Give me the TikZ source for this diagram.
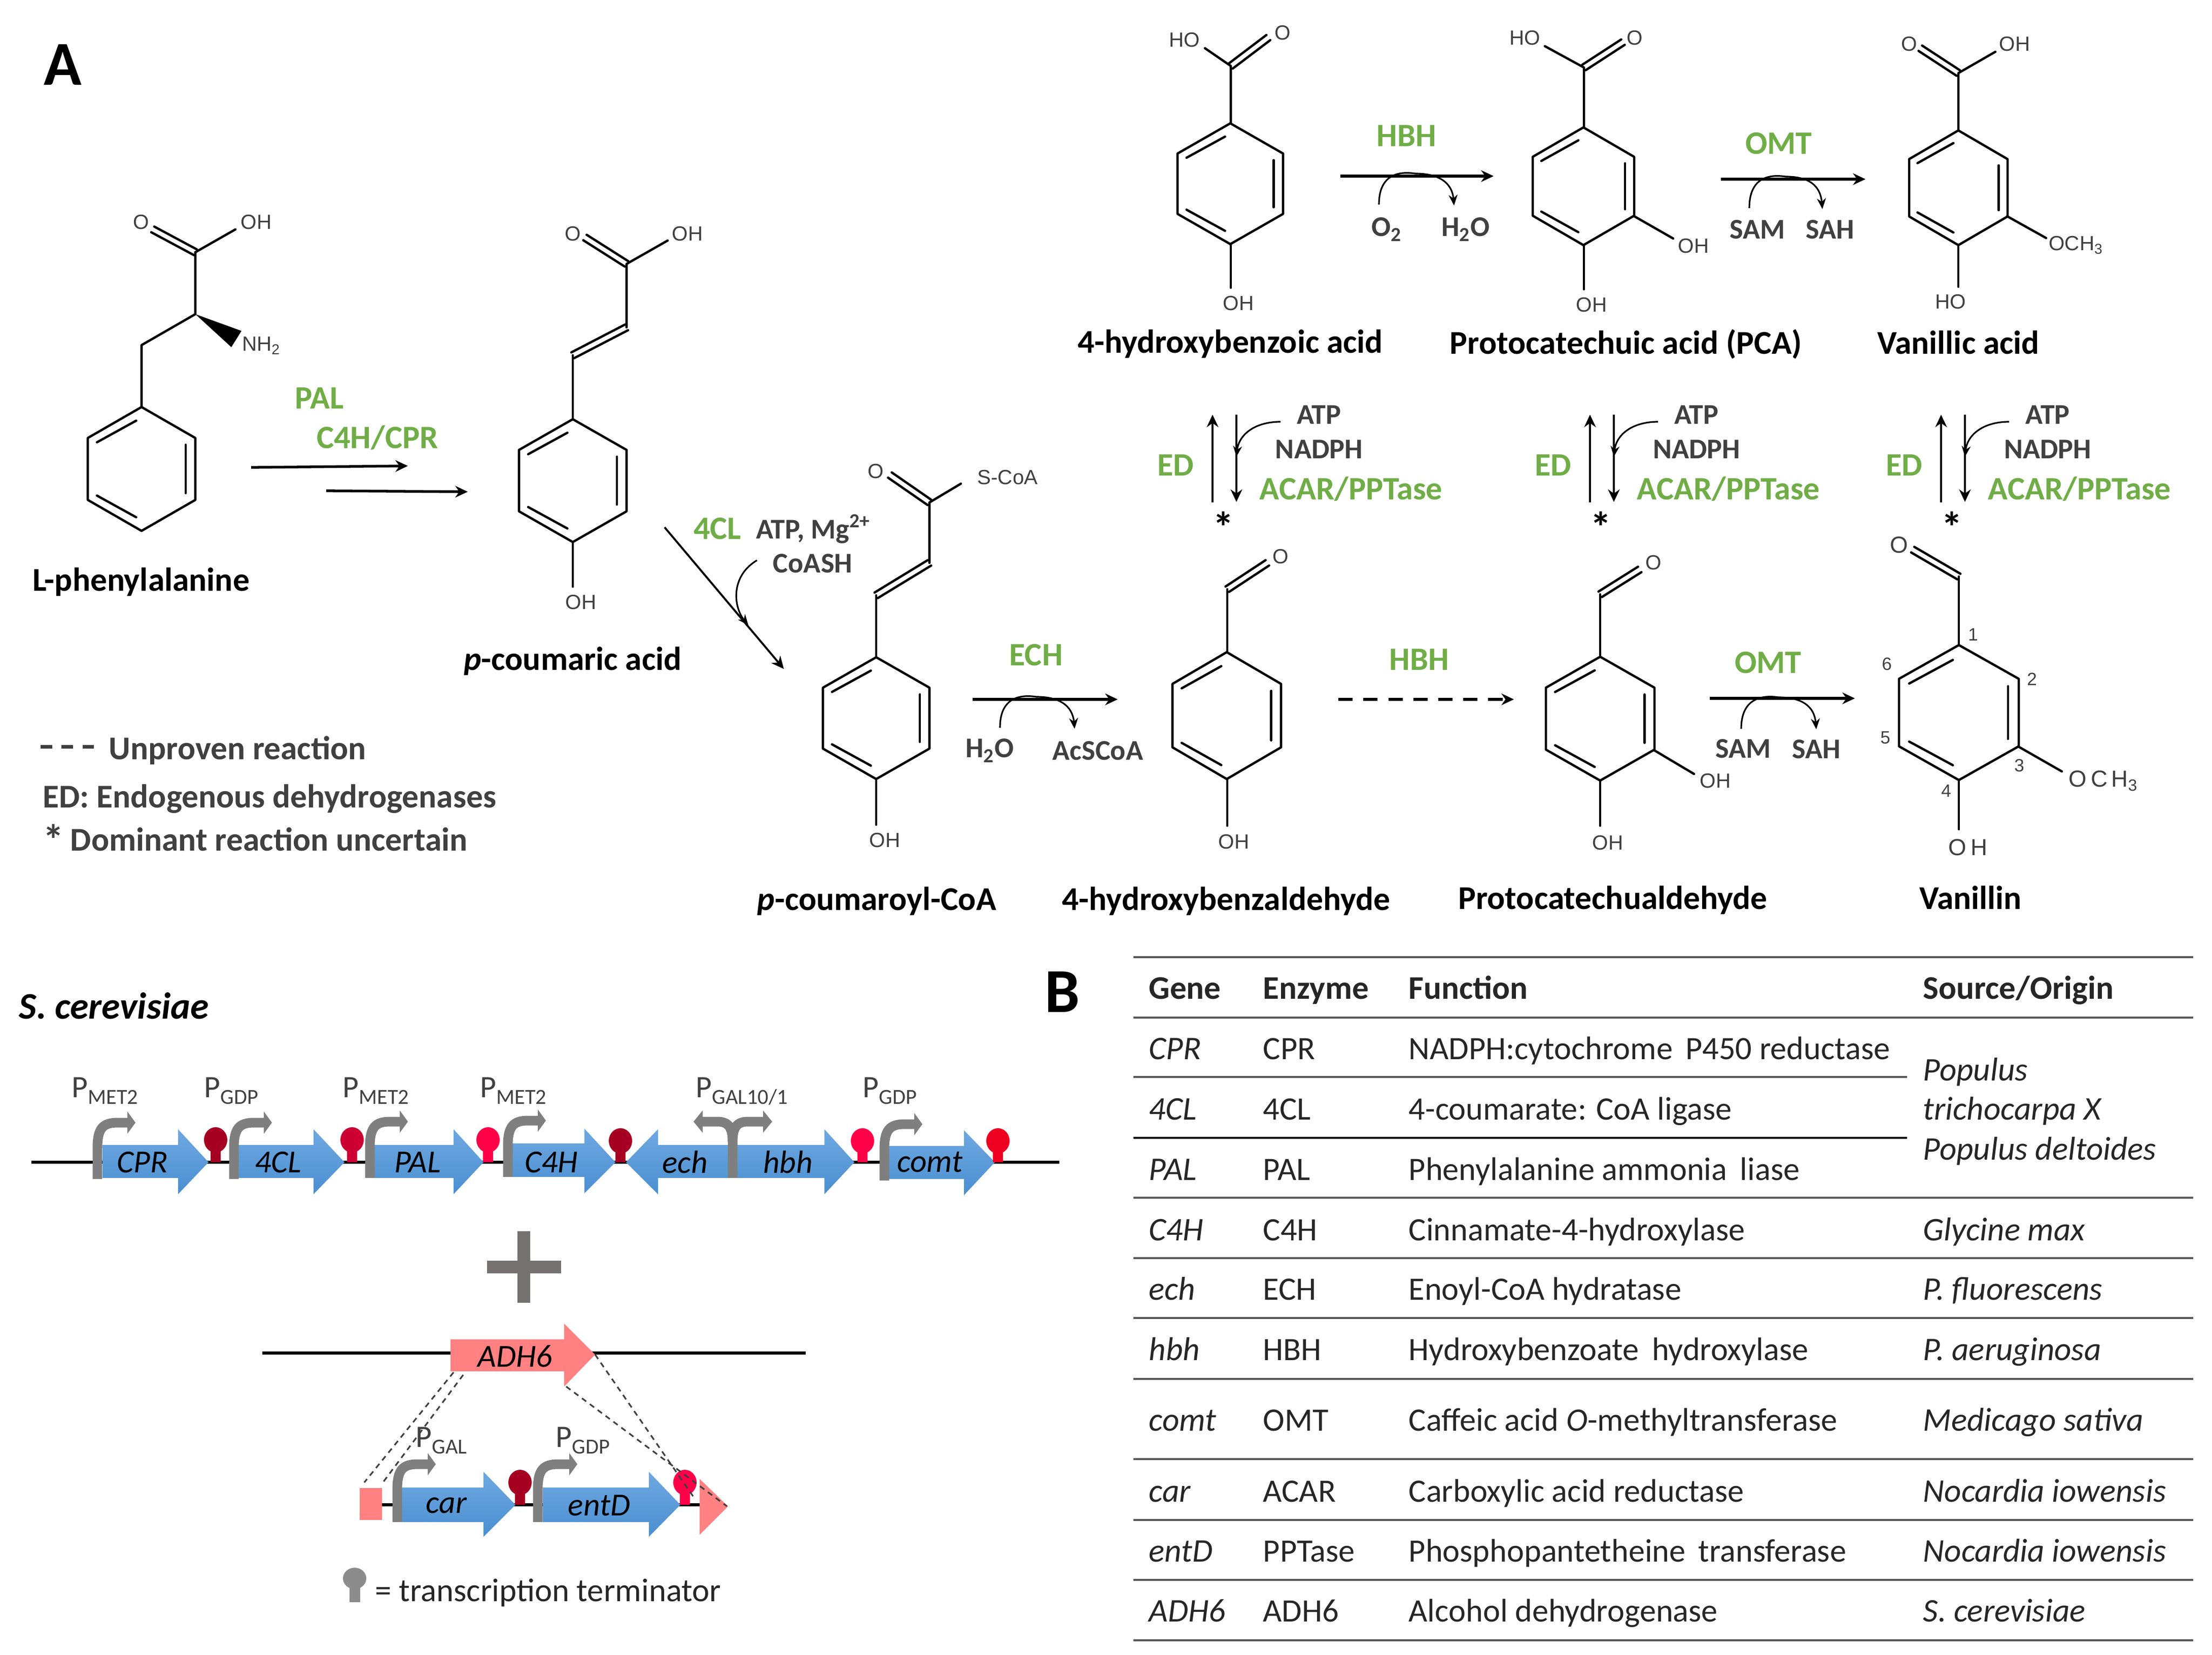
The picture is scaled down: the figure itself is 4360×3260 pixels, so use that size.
\documentclass[tikz,border=0pt]{standalone}
\usepackage{fontspec}
\setmainfont{Carlito}
\newfontfamily\chemfont{Liberation Sans}
\usepackage{tikz}
\usetikzlibrary{calc, arrows.meta}
\usepackage{xcolor}
\definecolor{enzyme_green}{HTML}{70AD47}
\definecolor{soft_text}{HTML}{404040}
\definecolor{gene_top}{HTML}{6FA8E0}
\definecolor{gene_bottom}{HTML}{4A8FD2}
\definecolor{adh_pink}{HTML}{FF8181}
\definecolor{promoter_gray}{HTML}{7F7F7F}
\definecolor{plus_gray}{HTML}{767171}
\definecolor{term_dark}{HTML}{A50021}
\definecolor{term_mid}{HTML}{CC0033}
\definecolor{term_pink}{HTML}{FF0048}
\definecolor{term_red}{HTML}{EE0022}
\definecolor{rule_gray}{HTML}{595959}
\newcommand\fs[1]{\fontsize{#1}{#1}\selectfont}
% hexagon with its three inner lines: centre x, centre y, radius x, radius y
\newcommand\benzene[4]{%
  \draw[bond] (#1,{#2-#4}) -- ({#1+#3},{#2-0.5*#4}) -- ({#1+#3},{#2+0.5*#4}) -- (#1,{#2+#4})
    -- ({#1-#3},{#2+0.5*#4}) -- ({#1-#3},{#2-0.5*#4}) -- cycle;
  \draw[bond] ({#1+0.82*#3},{#2-0.39*#4}) -- ({#1+0.82*#3},{#2+0.39*#4});
  \draw[bond] ({#1-0.83*#3},{#2-0.43*#4}) -- ({#1-0.1*#3},{#2-0.78*#4});
  \draw[bond] ({#1-0.83*#3},{#2+0.43*#4}) -- ({#1-0.1*#3},{#2+0.78*#4});
}
\newcommand\dbond[2]{%
  \draw[bond] ($#1!1.8pt!90:#2$) -- ($#2!1.8pt!-90:#1$);
  \draw[bond] ($#1!1.8pt!-90:#2$) -- ($#2!1.8pt!90:#1$);
}
\newcommand\promoter[4]{% x, bottom y, arrow y, arrow length
  \draw[promoter-line] (#1,#2) -- (#1,{#3+50}) .. controls (#1,{#3+12}) and ({#1+10},#3) .. ({#1+40},#3) -- ({#1+#4-14},#3);
  \fill[promoter_gray] ({#1+#4-16},{#3-22}) -- ({#1+#4},#3) -- ({#1+#4-16},{#3+22}) -- cycle;
}
\newcommand\terminator[4]{% colour, x, foot y, head y
  \fill[#1] ({#2-10},#3) rectangle ({#2+10},{#4+10});
  \fill[#1] (#2,#4) ellipse [x radius=23, y radius=25];
}
\newcommand\promlabel[1]{P\raisebox{-3.7pt}{\fs{12}#1}}

\begin{document}
\begin{tikzpicture}[
    x=0.01cm, y=-0.01cm,
    >={Stealth[length=7pt,width=6.5pt]},
    bond/.style={line width=1.3pt, line cap=round, line join=round},
    reaction/.style={line width=1.5pt},
    reaction-thin/.style={line width=1.1pt},
    side-curve/.style={line width=0.9pt, >={Stealth[length=6pt,width=5pt]}},
    atom-label/.style={font=\chemfont\fs{11.5}, text=soft_text, inner sep=0pt},
    side-label/.style={font=\fs{16}\bfseries, text=soft_text, inner sep=0pt},
    enzyme-label/.style={font=\fs{18.3}\bfseries, text=enzyme_green, inner sep=0pt},
    compound-label/.style={font=\fs{18.6}\bfseries, inner sep=0pt, text height=16pt, text depth=3pt},
    legend-label/.style={font=\fs{18.6}\bfseries, text=soft_text, inner sep=0pt, anchor=base west},
    panel-label/.style={font=\fs{35}\bfseries, inner sep=0pt},
    gene-label/.style={font=\fs{18}\itshape, inner sep=0pt},
    prom-label/.style={font=\fs{17.5}, text=soft_text, inner sep=0pt, anchor=base west},
    table-head/.style={font=\fs{18.5}\bfseries, text=black!85, inner sep=0pt, anchor=west, text height=15pt, text depth=3pt},
    table-cell/.style={font=\fs{18.3}, text=black!85, inner sep=0pt, anchor=west, text height=15pt, text depth=3pt},
    table-ital/.style={font=\fs{18.5}\itshape, text=black!85, inner sep=0pt, anchor=west, text height=15pt, text depth=3pt},
    backbone/.style={line width=1.7pt},
    promoter-line/.style={line width=5.4pt, color=promoter_gray},
    gene-fill/.style={top color=gene_top, bottom color=gene_bottom},
    insert-line/.style={line width=0.9pt, color=soft_text, dash pattern=on 3pt off 2.5pt},
    table-rule/.style={line width=1.2pt, color=rule_gray},
  ]
  \useasboundingbox (0,0) rectangle (4360,3260);

  %%%%%%%%%% Panel letters %%%%%%%%%%
  \node[panel-label] (panel-a) at (124,128) {A};
  \node[panel-label] (panel-b) at (2094,1955) {B};

  %%%%%%%%%% Rings %%%%%%%%%%
  \foreach \cx/\cy/\rx/\ry in {
    279/924/106/122, 1129/947/106/121, 2425/362/104/119, 3121/367/100/116, 3860/370/97/113,
    1727/1415/105/120, 2418/1410/107/125, 3154/1416/107/122, 3861/1404/118/133
  } {
    \benzene{\cx}{\cy}{\rx}{\ry}
  }

  %%%%%%%%%% Bonds %%%%%%%%%%
  \foreach \segment in {
    {(279,802) -- (279,680) -- (385,619) -- (385,497)},
    {(385,497) -- (464,452)},
    {(1129,826) -- (1129,700)},
    {(1235,645) -- (1235,520) -- (1316,474)},
    {(1129,1068) -- (1129,1156)},
    {(2426,481) -- (2426,567)},
    {(2426,243) -- (2426,130) -- (2375,95)},
    {(3122,484) -- (3122,570)},
    {(3122,251) -- (3122,133) -- (3045,91)},
    {(3221,426) -- (3298,470)},
    {(3860,483) -- (3860,565)},
    {(3860,257) -- (3860,144) -- (3933,102)},
    {(3956,426) -- (4033,469)},
    {(1727,1535) -- (1727,1625)},
    {(1727,1294) -- (1727,1173)},
    {(1832,1109) -- (1832,990) -- (1894,953)},
    {(2419,1535) -- (2419,1627)},
    {(2419,1285) -- (2419,1161)},
    {(3154,1539) -- (3154,1627)},
    {(3154,1294) -- (3154,1171)},
    {(3260,1478) -- (3339,1525)},
    {(3861,1537) -- (3861,1634)},
    {(3861,1271) -- (3861,1136)},
    {(3980,1472) -- (4064,1520)}
  } {
    \draw[bond] \segment;
  }
  \foreach \ax/\ay/\bx/\by in {
    385/497/301/452, 1129/700/1235/645, 1235/520/1153/468,
    2426/130/2500/74, 3122/133/3199/83, 3860/144/3785/95,
    1727/1173/1832/1109, 1832/990/1754/936, 2419/1161/2498/1109,
    3154/1171/3232/1122, 3861/1136/3770/1083
  } {
    \dbond{(\ax,\ay)}{(\bx,\by)}
  }
  \fill (385,619) -- (476,652) -- (456,684) -- cycle;

  %%%%%%%%%% Atom labels %%%%%%%%%%
  \foreach \pos/\labeltext [count=\n] in {
    {(278,438)}/{O}, {(505,438)}/{OH}, {(515,681)}/{NH\textsubscript{2}},
    {(1129,461)}/{O}, {(1355,461)}/{OH}, {(1145,1187)}/{OH},
    {(2335,79)}/{HO}, {(2528,65)}/{O}, {(2441,598)}/{OH},
    {(3006,75)}/{HO}, {(3222,75)}/{O}, {(3137,601)}/{OH}, {(3338,485)}/{OH},
    {(3763,87)}/{O}, {(3971,87)}/{OH}, {(3845,595)}/{HO}, {(4092,483)}/{OCH\textsubscript{3}},
    {(1726,929)}/{O}, {(1986,941)}/{S-CoA}, {(1744,1656)}/{OH},
    {(2524,1097)}/{O}, {(2432,1659)}/{OH},
    {(3259,1109)}/{O}, {(3169,1661)}/{OH}, {(3381,1539)}/{OH}
  } {
    \node[atom-label] (atom-\n) at \pos {\labeltext};
  }
  \foreach \pos/\labeltext [count=\n] in {
    {(3743,1074)}/{O}, {(3879,1670)}/{O\,H}, {(4146,1539)}/{O\,C\,H\textsubscript{3}}
  } {
    \node[atom-label, font=\chemfont\fs{13}] (vanillin-atom-\n) at \pos {\labeltext};
  }
  \foreach \pos/\labeltext [count=\n] in {
    {(3889,1250)}/{1}, {(4005,1338)}/{2}, {(3980,1508)}/{3}, {(3836,1558)}/{4}, {(3716,1454)}/{5}, {(3719,1308)}/{6}
  } {
    \node[atom-label, font=\chemfont\fs{10}] (position-\n) at \pos {\labeltext};
  }

  %%%%%%%%%% Compound names %%%%%%%%%%
  \foreach \pos/\labeltext [count=\n] in {
    {(278,1142)}/{L-phenylalanine}, {(1129,1298)}/{\textit{p}-coumaric acid},
    {(2425,673)}/{4-hydroxybenzoic acid}, {(3205,675)}/{Protocatechuic acid (PCA)}, {(3860,675)}/{Vanillic acid},
    {(1728,1771)}/{\textit{p}-coumaroyl-CoA}, {(2417,1771)}/{4-hydroxybenzaldehyde},
    {(3179,1769)}/{Protocatechualdehyde}, {(3884,1769)}/{Vanillin}
  } {
    \node[compound-label] (compound-\n) at \pos {\labeltext};
  }

  %%%%%%%%%% Straight reactions %%%%%%%%%%
  \foreach \rname/\xa/\ya/\xb/\yb in {
    pal/495/921/804/918, cfh/643/967/922/969, hbha/2642/347/2944/347, omta/3392/353/3677/353,
    ech/1917/1378/2203/1378, omtb/3370/1376/3656/1376
  } {
    \coordinate (\rname-a) at (\xa,\ya);
    \coordinate (\rname-b) at (\xb,\yb);
    \draw[reaction, ->] (\rname-a) -- (\rname-b);
  }
  \coordinate (fcl-a) at (1310,1039);
  \coordinate (fcl-b) at (1545,1318);
  \draw[reaction-thin, ->] (fcl-a) -- (fcl-b);
  \coordinate (hbhb-a) at (2638,1378);
  \coordinate (hbhb-b) at (2984,1378);
  \draw[reaction, ->, dash pattern=on 8pt off 6pt] (hbhb-a) -- (hbhb-b);

  %%%%%%%%%% Side curves %%%%%%%%%%
  \foreach \xa/\ya/\xm/\ym/\xb/\yb in {
    2718/403/2790/344/2866/405, 3448/410/3520/350/3592/412, 1971/1434/2043/1375/2118/1436, 3432/1436/3506/1376/3580/1437
  } {
    \draw[side-curve, ->] (\xa,\ya) .. controls (\xa,{\ym+5}) and ({\xm-40},{\ym-8}) .. (\xm,{\ym-2}) .. controls ({\xm+45},{\ym-2}) and ({\xb-4},{\ym+15}) .. (\xb,\yb);
  }
  \draw[side-curve, ->] (1492,1104) .. controls (1440,1135) and (1445,1195) .. (1475,1232);

  %%%%%%%%%% Reaction texts %%%%%%%%%%
  \foreach \pos/\labeltext [count=\n] in {
    {(630,785)}/{PAL}, {(744,862)}/{C4H/CPR}, {(2772,268)}/{HBH}, {(3506,283)}/{OMT},
    {(1414,1042)}/{4CL}, {(2042,1291)}/{ECH}, {(2797,1300)}/{HBH}, {(3485,1306)}/{OMT}
  } {
    \node[enzyme-label] (enzyme-\n) at \pos {\labeltext};
  }
  \foreach \pos/\labeltext [count=\n] in {
    {(2733,452)}/{O\textsubscript{2}}, {(2889,452)}/{H\textsubscript{2}O}, {(3464,452)}/{SAM}, {(3607,452)}/{SAH},
    {(1603,1042)}/{ATP, Mg\textsuperscript{2+}}, {(1602,1110)}/{CoASH},
    {(1951,1479)}/{H\textsubscript{2}O}, {(2164,1479)}/{AcSCoA}, {(3436,1475)}/{SAM}, {(3580,1476)}/{SAH}
  } {
    \node[side-label] (side-\n) at \pos {\labeltext};
  }

  %%%%%%%%%% Reversible steps %%%%%%%%%%
  \foreach \x [count=\n] in {2390,3134,3826} {
    \coordinate (up-\n-a) at (\x,990);
    \coordinate (up-\n-b) at (\x,817);
    \coordinate (down-\n-a) at ({\x+47},817);
    \coordinate (down-\n-b) at ({\x+47},989);
    \draw[reaction-thin, ->] (up-\n-a) -- (up-\n-b);
    \draw[reaction-thin, ->] (down-\n-a) -- (down-\n-b);
    \draw[side-curve, ->] ({\x+134},831) .. controls ({\x+85},831) and ({\x+52},855) .. ({\x+47},900);
    \node[side-label] (atp-\n) at ({\x+210},817) {ATP};
    \node[side-label] (nadph-\n) at ({\x+210},885) {NADPH};
    \node[enzyme-label] (acar-\n) at ({\x+273},963) {ACAR/PPTase};
    \node[enzyme-label] (ed-\n) at ({\x-73},917) {ED};
    \node[font=\fs{24}\bfseries, inner sep=0pt] (star-\n) at ({\x+21},1038) {*};
  }

  %%%%%%%%%% Legend %%%%%%%%%%
  \coordinate (dash-a) at (80,1471);
  \coordinate (dash-b) at (185,1471);
  \draw[line width=2pt, color=soft_text, dash pattern=on 6.5pt off 5.3pt] (dash-a) -- (dash-b);
  \node[legend-label] (legend-1) at (214,1496) {Unproven reaction};
  \node[legend-label] (legend-2) at (84,1591) {ED: Endogenous dehydrogenases};
  \node[legend-label] (legend-3) at (84,1676) {\makebox[15.4pt][l]{\raisebox{-2.5pt}{\fs{24}*}}Dominant reaction uncertain};

  %%%%%%%%%% Yeast cassette %%%%%%%%%%
  \node[font=\fs{21}\bfseries\itshape, inner sep=0pt, anchor=west] (host) at (37,1982) {S. cerevisiae};
  \coordinate (dna-a) at (62,2290);
  \coordinate (dna-b) at (2088,2290);
  \draw[backbone] (dna-a) -- (dna-b);
  \foreach \xa/\xb/\xc/\xt/\ya/\yb/\yc/\yd/\labeltext in {
    202/351/411/281/2256/2321/2225/2353/CPR, 470/618/679/548/2256/2321/2225/2353/4CL,
    738/894/953/823/2256/2321/2225/2353/PAL, 1010/1152/1213/1087/2253/2319/2224/2351/C4H,
    1453/1625/1684/1553/2256/2321/2225/2353/hbh, 1752/1900/1961/1833/2258/2323/2227/2355/comt
  } {
    \shade[gene-fill] (\xa,\ya) -- (\xb,\ya) -- (\xb,\yc) -- (\xc,2290) -- (\xb,\yd) -- (\xb,\yb) -- (\xa,\yb) -- cycle;
    \node[gene-label] (gene-\labeltext) at (\xt,2290) {\labeltext};
  }
  \shade[gene-fill] (1435,2256) -- (1297,2256) -- (1297,2225) -- (1234,2290) -- (1297,2353) -- (1297,2321) -- (1435,2321) -- cycle;
  \node[gene-label] (gene-ech) at (1350,2290) {ech};
  \foreach \termcolor/\x/\yh in {
    term_dark/425/2246, term_mid/694/2246, term_pink/962/2246, term_dark/1223/2248, term_pink/1700/2248, term_red/1967/2248
  } {
    \terminator{\termcolor}{\x}{2290}{\yh}
  }
  \foreach \x/\ybot/\yarr in {192/2323/2212, 461/2323/2212, 729/2321/2210, 1001/2319/2208, 1743/2326/2215} {
    \promoter{\x}{\ybot}{\yarr}{75}
  }
  \draw[promoter-line] (1444,2321) -- (1444,2250) .. controls (1444,2222) and (1436,2210) .. (1414,2210) -- (1385,2210);
  \draw[promoter-line] (1444,2250) .. controls (1444,2222) and (1452,2210) .. (1474,2210) -- (1506,2210);
  \fill[promoter_gray] (1385,2188) -- (1367,2210) -- (1385,2232) -- cycle;
  \fill[promoter_gray] (1504,2188) -- (1522,2210) -- (1504,2232) -- cycle;
  \foreach \x/\labeltext [count=\n] in {141/MET2, 402/GDP, 675/MET2, 946/MET2, 1371/{GAL10/1}, 1700/GDP} {
    \node[prom-label] (prom-\n) at (\x,2162) {\promlabel{\labeltext}};
  }

  %%%%%%%%%% Plus sign %%%%%%%%%%
  \fill[plus_gray] (1020,2426) rectangle (1045,2567);
  \fill[plus_gray] (960,2484) rectangle (1106,2509);

  %%%%%%%%%% ADH6 locus %%%%%%%%%%
  \coordinate (locus-a) at (517,2666);
  \coordinate (locus-b) at (1588,2666);
  \draw[backbone] (locus-a) -- (locus-b);
  \fill[adh_pink] (888,2639) -- (1112,2639) -- (1112,2608) -- (1173,2669) -- (1112,2732) -- (1112,2702) -- (888,2702) -- cycle;
  \node[gene-label] (gene-adh) at (1015,2672) {ADH6};
  \coordinate (insert-a) at (753,2965);
  \coordinate (insert-b) at (1379,2965);
  \draw[backbone] (insert-a) -- (insert-b);
  \fill[adh_pink] (709,2932) rectangle (753,2995);
  \fill[adh_pink] (1379,2914) -- (1435,2968) -- (1379,3024) -- cycle;
  \foreach \xa/\xb/\xc/\xt/\labeltext in {792/953/1016/880/car, 1070/1279/1341/1181/entD} {
    \shade[gene-fill] (\xa,2931) -- (\xb,2931) -- (\xb,2900) -- (\xc,2965) -- (\xb,3028) -- (\xb,2999) -- (\xa,2999) -- cycle;
    \node[gene-label] (gene-\labeltext) at (\xt,2966) {\labeltext};
  }
  \terminator{term_dark}{1025}{2965}{2921}
  \terminator{term_pink}{1350}{2965}{2921}
  \promoter{783}{2999}{2885}{76}
  \promoter{1060}{2999}{2885}{78}
  \node[prom-label] (prom-gal) at (819,2851) {\promlabel{GAL}};
  \node[prom-label] (prom-gdp) at (1095,2851) {\promlabel{GDP}};
  \foreach \xa/\ya/\xb/\yb in {894/2704/718/2921, 913/2709/754/2922, 1116/2732/1433/2968, 1173/2669/1368/2951} {
    \draw[insert-line] (\xa,\ya) -- (\xb,\yb);
  }

  %%%%%%%%%% Terminator key %%%%%%%%%%
  \fill[black!45] (689,3120) rectangle (710,3157);
  \fill[black!45] (699,3110) ellipse [x radius=23, y radius=21];
  \node[font=\fs{18.4}, text=black!85, inner sep=0pt, anchor=west] (key-text) at (739,3138) {= transcription terminator};

  %%%%%%%%%% Table %%%%%%%%%%
  \foreach \liney in {1886,2005,2360,2479,2597,2717,2875,2995,3113,3232} {
    \draw[table-rule] (2234,\liney) -- (4323,\liney);
  }
  \draw[table-rule] (2234,2122) -- (3759,2122);
  \draw[table-rule, color=black] (2234,2242) -- (3759,2242);
  \node[table-head] (head-gene) at (2264,1947) {Gene};
  \node[table-head] (head-enzyme) at (2489,1947) {Enzyme};
  \node[table-head] (head-function) at (2776,1947) {Function};
  \node[table-head] (head-origin) at (3790,1947) {Source/Origin};
  \foreach \rowy/\genetext/\enzymetext/\functext [count=\n] in {
    2066/CPR/CPR/{NADPH:cytochrome\ \,P450 reductase},
    2185/4CL/4CL/{4-coumarate: CoA ligase},
    2304/PAL/PAL/{Phenylalanine ammonia\ \,liase},
    2423/C4H/C4H/{Cinnamate-4-hydroxylase},
    2540/ech/ECH/{Enoyl-CoA hydratase},
    2659/hbh/HBH/{Hydroxybenzoate\ \,hydroxylase},
    2798/comt/OMT/{Caffeic acid \textit{O}-methyltransferase},
    2938/car/ACAR/{Carboxylic acid reductase},
    3056/entD/PPTase/{Phosphopantetheine\ \,transferase},
    3174/ADH6/ADH6/{Alcohol dehydrogenase}
  } {
    \node[table-ital] (row-gene-\n) at (2264,\rowy) {\genetext};
    \node[table-cell] (row-enzyme-\n) at (2489,\rowy) {\enzymetext};
    \node[table-cell] (row-function-\n) at (2776,\rowy) {\functext};
  }
  \foreach \rowy/\origintext [count=\n] in {
    2108/{Populus}, 2185/{trichocarpa X}, 2264/{Populus deltoides}, 2423/{Glycine max}, 2540/{P. fluorescens},
    2659/{P. aeruginosa}, 2798/{Medicago sativa}, 2938/{Nocardia iowensis}, 3056/{Nocardia iowensis}, 3174/{S. cerevisiae}
  } {
    \node[table-ital] (row-origin-\n) at (3790,\rowy) {\origintext};
  }
\end{tikzpicture}
\end{document}
